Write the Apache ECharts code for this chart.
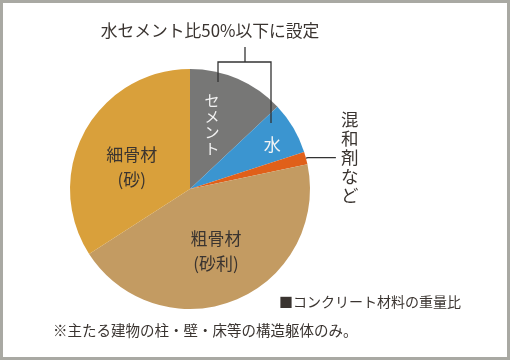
<!DOCTYPE html>
<html>
<head>
<meta charset="utf-8">
<script src="https://cdn.jsdelivr.net/npm/echarts@6/dist/echarts.min.js"></script>
<style>
  html, body { margin: 0; padding: 0; background: #fff; }
  #main { width: 510px; height: 360px; }
</style>
</head>
<body>
<div id="main"></div>
<script>
    var names = ['セメント', '水', '混和剤など', '粗骨材', '細骨材'];
    var labels = ['セ\nメ\nン\nト', '水', '混\n和\n剤\nな\nど', '粗骨材\n(砂利)', '細骨材\n(砂)'];
    var values = [13, 7, 1.7, 44.2, 34.1];
    var colors = ['#777776', '#3b95d0', '#e0601a', '#c39b62', '#d9a03b'];
    var noteTop = '水セメント比50%以下に設定';
    var legendText = '■コンクリート材料の重量比';
    var footNote = '※主たる建物の柱・壁・床等の構造躯体のみ。';

    var font = '"Noto Sans CJK JP", "Noto Sans", sans-serif';
    var dark = '#3a3430';
    // offsets for inside labels (by index)
    var nudge = [[-3, -7], [28, -12], [0, 0], [2, 4], [-3, 8]];

    var data = [];
    for (var i = 0; i < values.length; i++) {
        var item = {
            name: names[i],
            value: values[i],
            itemStyle: { color: colors[i] },
            label: {
                show: true,
                position: 'inside',
                formatter: labels[i],
                fontFamily: font,
                fontSize: 17,
                lineHeight: 25,
                color: dark
            }
        };
        if (i == 0) {
            item.label.color = '#f2f2f2';
            item.label.fontSize = 15;
            item.label.lineHeight = 16;
        }
        if (i == 1) {
            item.label.color = '#f4f4f4';
        }
        if (i == 2) {
            item.label.position = 'outside';
            item.label.fontSize = 17.5;
            item.label.lineHeight = 19;
            item.label.align = 'left';
            item.labelLine = {
                show: true,
                length: 2,
                length2: 28,
                lineStyle: { color: '#333', width: 1.3 }
            };
        }
        data.push(item);
    }

    var option = {
        backgroundColor: '#fff',
        animation: false,
        graphic: [
            {
                type: 'rect',
                shape: { x: 1.5, y: 1.5, width: 507, height: 357 },
                style: { fill: 'none', stroke: '#a9a9a3', lineWidth: 3 }
            },
            {
                type: 'text',
                x: 210, y: 31,
                style: {
                    text: noteTop, fontFamily: font, fontSize: 16.8, fill: dark,
                    align: 'center', verticalAlign: 'middle'
                }
            },
            {
                type: 'polyline',
                shape: { points: [[218, 82], [218, 62], [271, 62], [271, 123]] },
                style: { fill: 'none', stroke: '#333', lineWidth: 1.3 },
                z: 10
            },
            {
                type: 'line',
                shape: { x1: 245, y1: 47, x2: 245, y2: 62 },
                style: { stroke: '#333', lineWidth: 1.3 },
                z: 10
            },
            {
                type: 'text',
                x: 279, y: 302,
                style: {
                    text: legendText, fontFamily: font, fontSize: 14, fill: dark,
                    verticalAlign: 'middle'
                }
            },
            {
                type: 'text',
                x: 53, y: 330,
                style: {
                    text: footNote, fontFamily: font, fontSize: 14.5, fill: dark,
                    verticalAlign: 'middle'
                }
            }
        ],
        series: [{
            type: 'pie',
            center: [190, 189],
            radius: [0, 120],
            startAngle: 90,
            clockwise: true,
            avoidLabelOverlap: false,
            emphasis: { disabled: true },
            labelLayout: function(params) {
                var n = nudge[params.dataIndex];
                if (params.dataIndex == 2) return {};
                return { dx: n[0], dy: n[1] };
            },
            data: data
        }]
    };

    var myChart = echarts.init(document.getElementById('main'));
    myChart.setOption(option);
</script>
</body>
</html>
